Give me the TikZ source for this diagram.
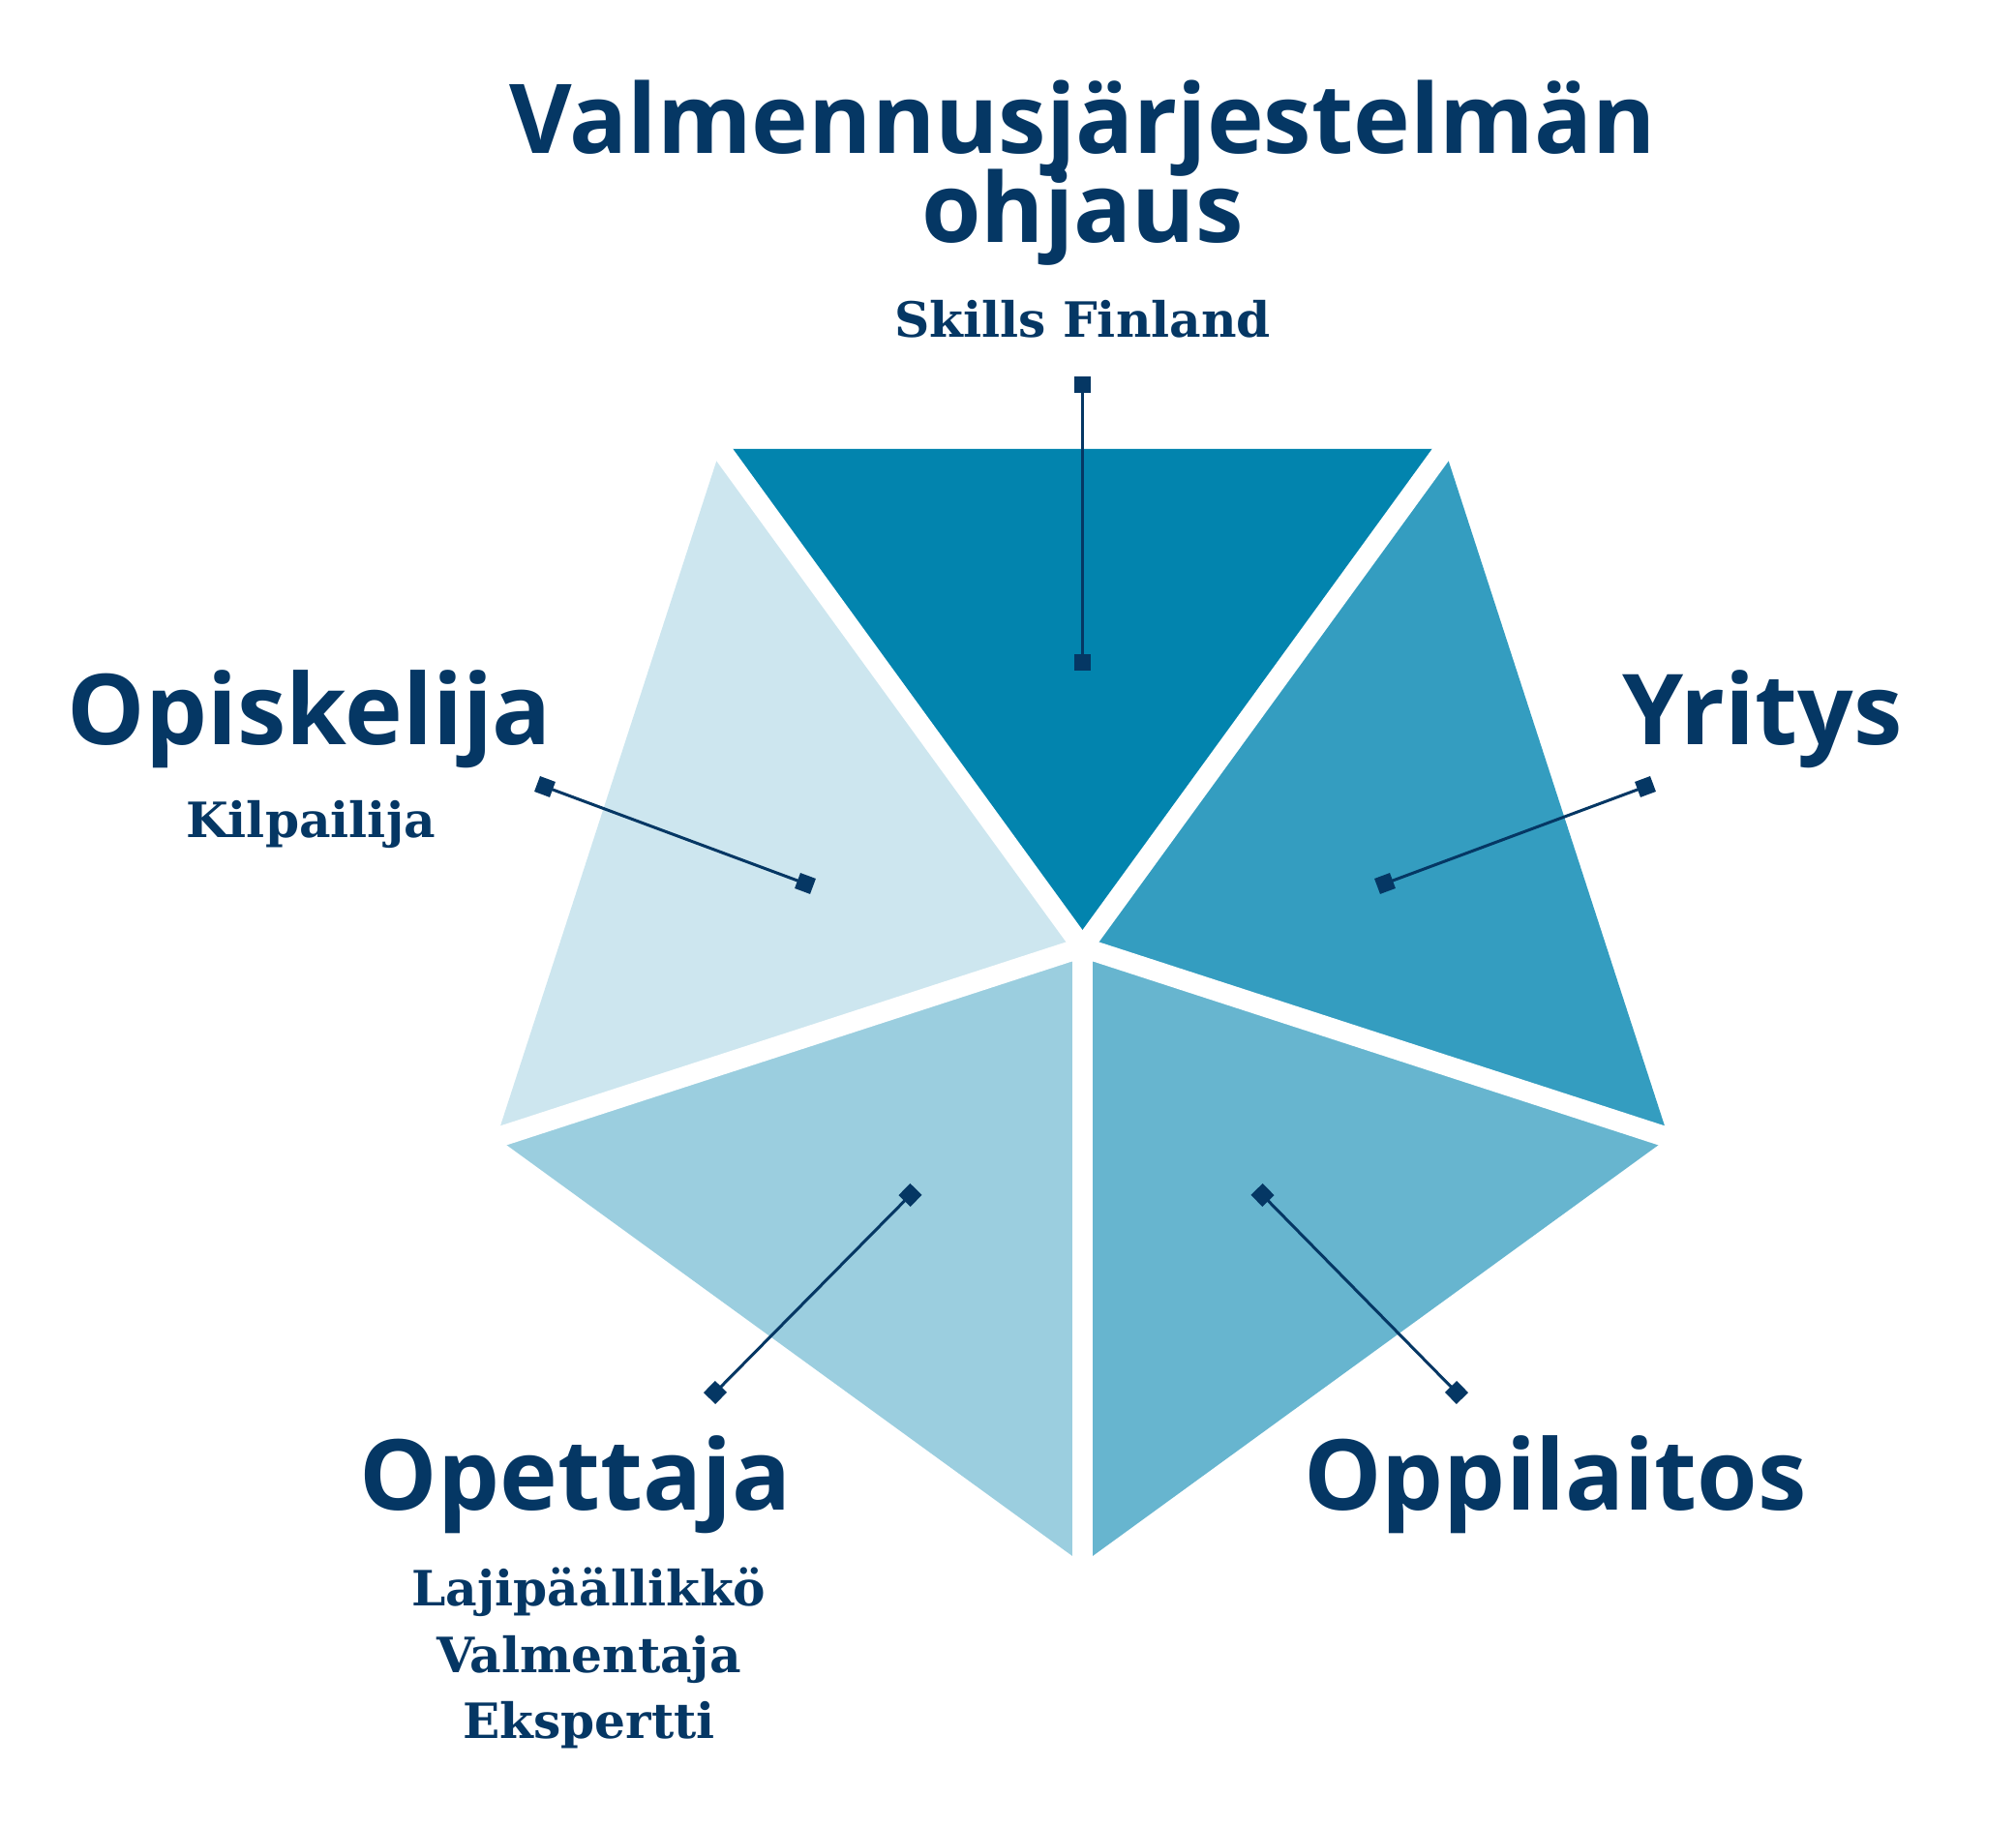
\documentclass[tikz,border=0pt]{standalone}
\usepackage{fontspec}
\newfontfamily\sansfont{Open Sans}
\newfontfamily\seriffont{DejaVu Serif}
\usepackage{tikz}
\usetikzlibrary{calc}
\usetikzlibrary{positioning}
\usetikzlibrary{arrows.meta}
\definecolor{tumma}{RGB}{2,132,174}
\definecolor{keski}{RGB}{52,157,192}
\definecolor{vaalea}{RGB}{103,181,207}
\definecolor{vaaleampi}{RGB}{155,206,223}
\definecolor{vaalein}{RGB}{205,230,239}
\definecolor{teksti}{RGB}{5,55,100}
\newcommand\tiivisrivi{\lineskiplimit=-30pt\relax}
\tikzset{
	otsikko/.style={
		anchor=base,
		text=teksti,
		align=center,
		inner sep=0pt,
		font=\sansfont\bfseries\fontsize{28.8}{27.3}\selectfont},
	alateksti/.style={
		anchor=base,
		text=teksti,
		align=center,
		inner sep=0pt,
		font=\seriffont\bfseries\fontsize{14.3}{19.5}\selectfont},
	rako/.style={draw=white, line width=0.21cm, line cap=round},
	viiva/.style={
		draw=teksti, line width=0.03cm,
		{Square[length=0.17cm,width=0.17cm]}-{Square[length=0.17cm,width=0.17cm]},
		shorten <=-0.085cm, shorten >=-0.085cm},
}
\begin{document}
\begin{tikzpicture}
			[x=1cm,y=1cm]
			\useasboundingbox (0,0) rectangle (20.83,18.88);
			\coordinate (keskus) at (11.185,9.09);
			% viisi kolmiota
			\foreach \kulma/\vari in {54/tumma,342/keski,270/vaalea,198/vaaleampi,126/vaalein}
				\fill[\vari] (keskus) -- ([shift={(\kulma:6.366)}]keskus)
					-- ([shift={(\kulma+72:6.366)}]keskus) -- cycle;
			\foreach \kulma in {54,126,198,270,342}
				\draw[rako] (keskus) -- ([shift={(\kulma:6.45)}]keskus);
			
			\node[otsikko, font=\sansfont\bfseries\fontsize{28.3}{26.4}\selectfont\tiivisrivi] (ohjaus) at (11.185,16.37) {Valmennusjärjestelmän\\ohjaus};
			\node[alateksti] (skills) at (11.185,15.39) {Skills Finland};
			\node[otsikko] (opiskelija) at (3.20,11.18) {Opiskelija};
			\node[alateksti] (kilpailija) at (3.21,10.22) {Kilpailija};
			\node[otsikko] (yritys) at (18.21,11.18) {Yritys};
			\node[otsikko] (opettaja) at (5.945,3.27) {Opettaja};
			\node[alateksti] (roolit) at (6.085,0.91) {Lajipäällikkö\\Valmentaja\\Ekspertti};
			\node[otsikko] (oppilaitos) at (16.07,3.27) {Oppilaitos};
			
			\coordinate (ohjausA) at (11.185,14.90);
			\coordinate (ohjausB) at (11.185,12.03);
			\coordinate (opiskelijaA) at (5.63,10.75);
			\coordinate (opiskelijaB) at (8.32,9.75);
			\coordinate (yritysA) at (17.00,10.75);
			\coordinate (yritysB) at (14.31,9.75);
			\coordinate (opettajaA) at (7.39,4.49);
			\coordinate (opettajaB) at (9.405,6.53);
			\coordinate (oppilaitosA) at (15.05,4.49);
			\coordinate (oppilaitosB) at (13.045,6.53);
			\draw[viiva] (ohjausA) -- (ohjausB);
			\draw[viiva] (opiskelijaA) -- (opiskelijaB);
			\draw[viiva] (yritysA) -- (yritysB);
			\draw[viiva] (opettajaA) -- (opettajaB);
			\draw[viiva] (oppilaitosA) -- (oppilaitosB);
			
			\end{tikzpicture}
\end{document}
